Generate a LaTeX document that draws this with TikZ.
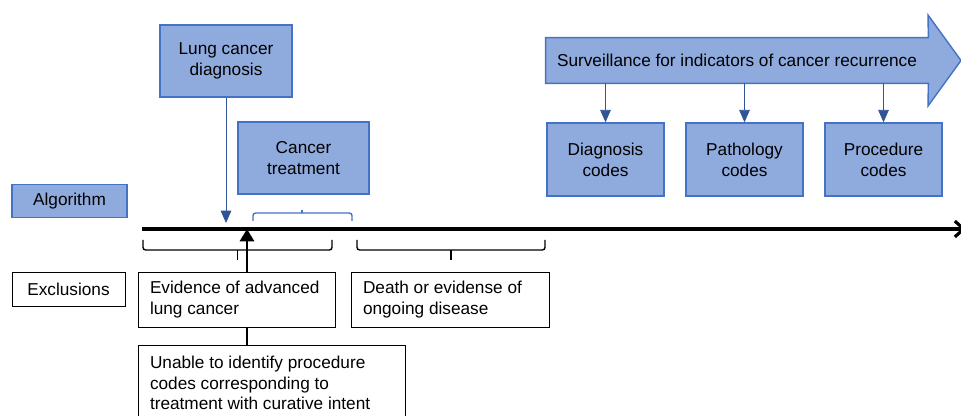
\documentclass[tikz,border=0pt]{standalone}
\usepackage{fontspec}
\setmainfont{Liberation Sans}
\usepackage{tikz}
\usepackage{xcolor}
\usetikzlibrary{positioning,arrows.meta,backgrounds}

\definecolor{boxfill}{HTML}{8FAADC}
\definecolor{boxline}{HTML}{4472C4}
\definecolor{arrowblue}{HTML}{2F5597}

\begin{document}
\begin{tikzpicture}[
        txt/.style={font=\fontsize{9.8}{11.8}\selectfont},
        bluebox/.style={txt, rectangle, draw=boxline, fill=boxfill, thick, align=center, inner sep=2pt},
        whitebox/.style={txt, rectangle, draw=black, fill=white, align=flush left, inner xsep=0.24cm, inner ysep=2pt},
        bluearrow/.style={draw=arrowblue, -{Triangle[length=7pt, width=6pt]}},
        bracket/.style={draw=black, thick, rounded corners=1.5pt},
        timeline/.style={draw=black, line width=1.8pt, -{Straight Barb[length=5pt, width=9pt]}}
    ]
        \useasboundingbox (0, 0) rectangle (19.22, -8.32);
        \clip (0, 0) rectangle (19.22, -8.32);

        % Timeline
        \coordinate (tl-start) at (2.84, -4.58);
        \coordinate (tl-end) at (19.32, -4.58);
        \coordinate (tx-start) at (4.94, -4.58);
        \draw[timeline] (tl-start) -- (tl-end);

        % Algorithm side
        \node[bluebox, minimum width=2.30cm, minimum height=0.66cm] (algo) at (1.39, -4.02) {Algorithm};
        \node[bluebox, minimum width=2.64cm, minimum height=1.44cm] (diag) at (4.52, -1.22) {Lung cancer\\diagnosis};
        \node[bluebox, minimum width=2.62cm, minimum height=1.44cm] (treat) at (6.07, -3.16) {Cancer\\treatment};
        \draw[bluearrow] (diag.south) -- ([yshift=0.12cm]diag.south |- tl-start);

        % Bracket under treatment
        \draw[bracket, draw=boxline] (5.06, -4.42) |- (6.04, -4.26) -| (7.04, -4.42);
        \draw[draw=boxline, thick] (6.04, -4.26) -- (6.04, -4.20);

        % Surveillance arrow
        \node[txt, minimum width=7.64cm, minimum height=0.90cm] (surv) at (14.74, -1.21) {Surveillance for indicators of cancer recurrence};
        \begin{scope}[on background layer]
            \draw[draw=boxline, fill=boxfill, thick] (surv.north west) -- (surv.north east) -- (18.56, -0.30)
                -- (19.22, -1.21) -- (18.56, -2.12) -- (surv.south east) -- (surv.south west) -- cycle;
        \end{scope}

        % Code boxes
        \node[bluebox, minimum width=2.34cm, minimum height=1.46cm] (dcodes) at (12.11, -3.19) {Diagnosis\\codes};
        \node[bluebox, minimum width=2.34cm, minimum height=1.46cm] (pcodes) at (14.89, -3.19) {Pathology\\codes};
        \node[bluebox, minimum width=2.34cm, minimum height=1.46cm] (rcodes) at (17.67, -3.19) {Procedure\\codes};
        \foreach \c in {dcodes, pcodes, rcodes}
            \draw[bluearrow] (surv.south -| \c.north) -- (\c.north);

        % Brackets below timeline
        \draw[bracket] (2.86, -4.80) |- (4.75, -5.00) -| (6.64, -4.80);
        \draw[thick] (4.75, -5.00) -- (4.75, -5.20);
        \draw[bracket] (7.14, -4.80) |- (9.02, -5.00) -| (10.90, -4.80);
        \draw[thick] (9.02, -5.00) -- (9.02, -5.20);

        % Exclusions
        \node[whitebox, align=center, inner xsep=2pt, minimum width=2.26cm, minimum height=0.68cm] (excl) at (1.37, -5.78) {Exclusions};
        \node[whitebox, text width=3.46cm, minimum height=1.10cm] (evid) at (4.73, -5.99) {Evidence of advanced\\lung cancer};
        \node[whitebox, text width=3.48cm, minimum height=1.10cm] (death) at (9.00, -5.99) {Death or evidense of\\ongoing disease};
        \node[whitebox, text width=4.86cm, minimum height=1.52cm] (unable) at (5.43, -7.66) {Unable to identify procedure\\codes corresponding to\\treatment with curative intent};
        \draw[line width=1.6pt, -{Triangle[length=7pt, width=8pt]}] (evid.north -| tx-start) -- (tx-start);
        \draw[thick] (evid.south -| tx-start) -- (unable.north -| tx-start);
    \end{tikzpicture}
\end{document}
